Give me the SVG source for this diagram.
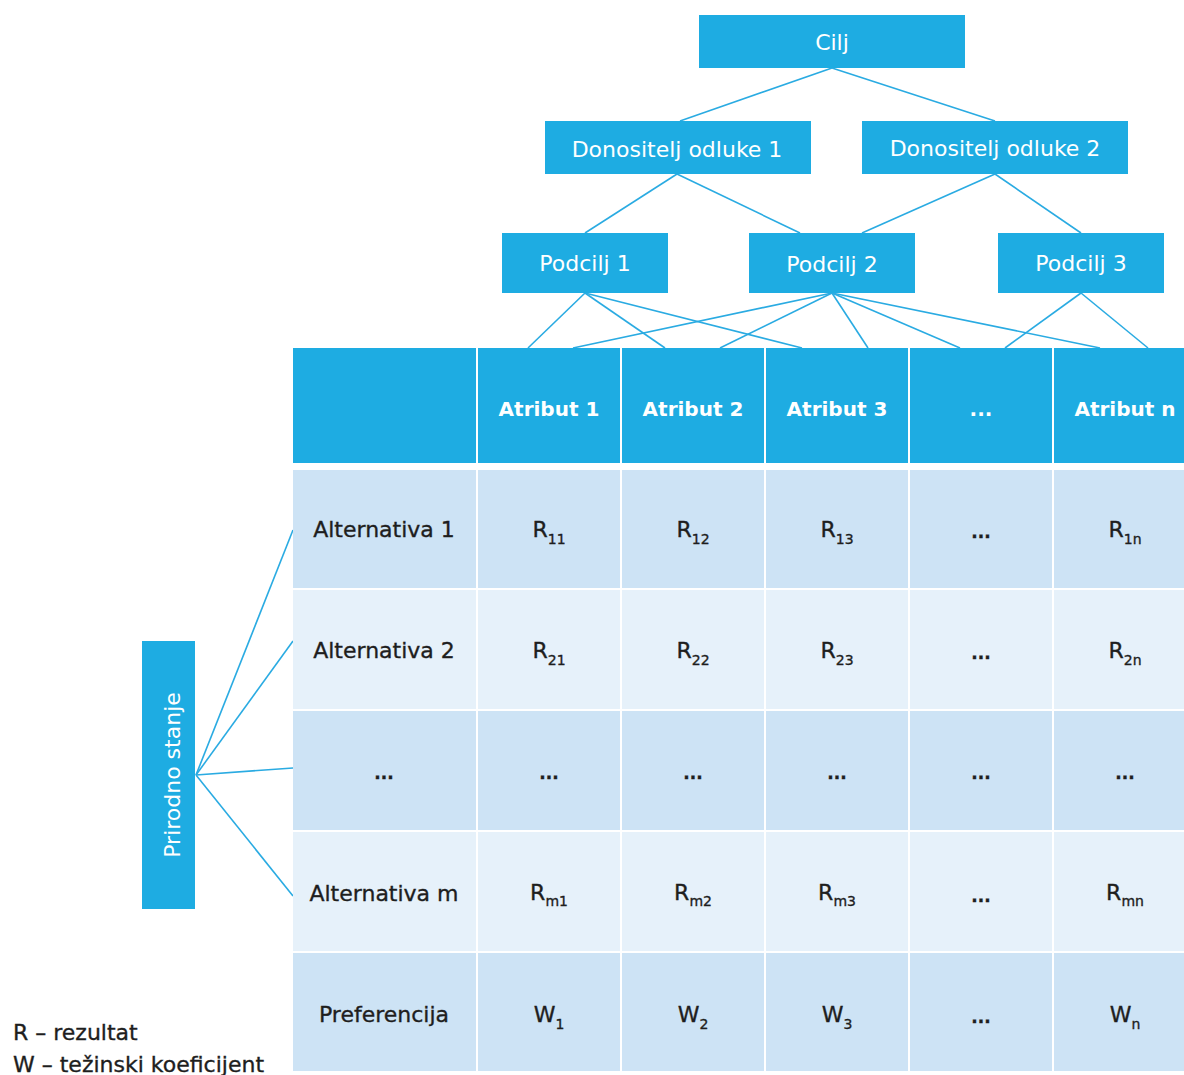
<svg xmlns="http://www.w3.org/2000/svg" width="1184" height="1075" viewBox="0 0 1184 1075">
<style>
.box{fill:#1eace2}
.wt{fill:#fff;font-family:"DejaVu Sans",sans-serif;font-size:22px;text-anchor:middle}
.hd{fill:#fff;font-family:"DejaVu Sans",sans-serif;font-weight:bold;font-size:20px;text-anchor:middle}
.c1{fill:#cde3f5}
.c2{fill:#e6f1fa}
.tx{fill:#1e1e1e;stroke:#1e1e1e;stroke-width:0.35;font-family:"DejaVu Sans",sans-serif;font-size:22px;text-anchor:middle}
.lg{fill:#1e1e1e;stroke:#1e1e1e;stroke-width:0.35;font-family:"DejaVu Sans",sans-serif;font-size:22px}
.sub{font-size:14px}
.dots{font-weight:bold;font-size:17px}
.conn line{stroke:#2aabe2;stroke-width:1.6}
</style>
<rect width="1184" height="1075" fill="#fff"/>
<g id="connectors" class="conn">
<line x1="832" y1="68" x2="680" y2="121"/>
<line x1="832" y1="68" x2="995" y2="121"/>
<line x1="677" y1="174" x2="585" y2="233"/>
<line x1="677" y1="174" x2="800" y2="233"/>
<line x1="995" y1="174" x2="862" y2="233"/>
<line x1="995" y1="174" x2="1081" y2="233"/>
<line x1="585" y1="293" x2="528" y2="348"/>
<line x1="585" y1="293" x2="665" y2="348"/>
<line x1="585" y1="293" x2="802" y2="348"/>
<line x1="832" y1="293" x2="573" y2="348"/>
<line x1="832" y1="293" x2="720" y2="348"/>
<line x1="832" y1="293" x2="868" y2="348"/>
<line x1="832" y1="293" x2="960" y2="348"/>
<line x1="832" y1="293" x2="1100" y2="348"/>
<line x1="1081" y1="293" x2="1005" y2="348"/>
<line x1="1081" y1="293" x2="1148" y2="348"/>
<line x1="196" y1="775" x2="293" y2="530"/>
<line x1="196" y1="775" x2="293" y2="641"/>
<line x1="196" y1="775" x2="293" y2="768"/>
<line x1="196" y1="775" x2="293" y2="896"/>
</g>
<g id="cilj"><rect class="box" x="699" y="15" width="266" height="53"/><text class="wt" x="832" y="50">Cilj</text></g>
<g id="donositelj1"><rect class="box" x="545" y="121" width="266" height="53"/><text class="wt" x="677" y="157">Donositelj odluke 1</text></g>
<g id="donositelj2"><rect class="box" x="862" y="121" width="266" height="53"/><text class="wt" x="995" y="156">Donositelj odluke 2</text></g>
<g id="podcilj1"><rect class="box" x="502" y="233" width="166" height="60"/><text class="wt" x="585" y="271">Podcilj 1</text></g>
<g id="podcilj2"><rect class="box" x="749" y="233" width="166" height="60"/><text class="wt" x="832" y="272">Podcilj 2</text></g>
<g id="podcilj3"><rect class="box" x="998" y="233" width="166" height="60"/><text class="wt" x="1081" y="271">Podcilj 3</text></g>
<g id="prirodno-stanje"><rect class="box" x="142" y="641" width="53" height="268"/><text class="wt" transform="translate(180,775) rotate(-90)">Prirodno stanje</text></g>
<g id="header">
<rect class="box" x="293" y="348" width="183" height="115"/>
<g id="atribut1"><rect class="box" x="478" y="348" width="142" height="115"/><text class="hd" x="549" y="416">Atribut 1</text></g>
<g id="atribut2"><rect class="box" x="622" y="348" width="142" height="115"/><text class="hd" x="693" y="416">Atribut 2</text></g>
<g id="atribut3"><rect class="box" x="766" y="348" width="142" height="115"/><text class="hd" x="837" y="416">Atribut 3</text></g>
<g id="atribut-dots"><rect class="box" x="910" y="348" width="142" height="115"/><text class="hd" x="981" y="416" font-size="17">...</text></g>
<g id="atributn"><rect class="box" x="1054" y="348" width="142" height="115"/><text class="hd" x="1125" y="416">Atribut n</text></g>
</g>
<g id="table-body">
<g id="row1">
<rect class="c1" x="293" y="470" width="183" height="118"/><rect class="c1" x="478" y="470" width="142" height="118"/><rect class="c1" x="622" y="470" width="142" height="118"/><rect class="c1" x="766" y="470" width="142" height="118"/><rect class="c1" x="910" y="470" width="142" height="118"/><rect class="c1" x="1054" y="470" width="142" height="118"/>
<text class="tx" x="384" y="537">Alternativa 1</text>
<text class="tx" x="549" y="537">R<tspan class="sub" dy="7">11</tspan></text>
<text class="tx" x="693" y="537">R<tspan class="sub" dy="7">12</tspan></text>
<text class="tx" x="837" y="537">R<tspan class="sub" dy="7">13</tspan></text>
<text class="tx dots" x="981" y="538">...</text>
<text class="tx" x="1125" y="537">R<tspan class="sub" dy="7">1n</tspan></text>
</g>
<g id="row2">
<rect class="c2" x="293" y="590" width="183" height="119"/><rect class="c2" x="478" y="590" width="142" height="119"/><rect class="c2" x="622" y="590" width="142" height="119"/><rect class="c2" x="766" y="590" width="142" height="119"/><rect class="c2" x="910" y="590" width="142" height="119"/><rect class="c2" x="1054" y="590" width="142" height="119"/>
<text class="tx" x="384" y="658">Alternativa 2</text>
<text class="tx" x="549" y="658">R<tspan class="sub" dy="7">21</tspan></text>
<text class="tx" x="693" y="658">R<tspan class="sub" dy="7">22</tspan></text>
<text class="tx" x="837" y="658">R<tspan class="sub" dy="7">23</tspan></text>
<text class="tx dots" x="981" y="659">...</text>
<text class="tx" x="1125" y="658">R<tspan class="sub" dy="7">2n</tspan></text>
</g>
<g id="row3">
<rect class="c1" x="293" y="711" width="183" height="119"/><rect class="c1" x="478" y="711" width="142" height="119"/><rect class="c1" x="622" y="711" width="142" height="119"/><rect class="c1" x="766" y="711" width="142" height="119"/><rect class="c1" x="910" y="711" width="142" height="119"/><rect class="c1" x="1054" y="711" width="142" height="119"/>
<text class="tx dots" x="384" y="779">...</text>
<text class="tx dots" x="549" y="779">...</text>
<text class="tx dots" x="693" y="779">...</text>
<text class="tx dots" x="837" y="779">...</text>
<text class="tx dots" x="981" y="779">...</text>
<text class="tx dots" x="1125" y="779">...</text>
</g>
<g id="row4">
<rect class="c2" x="293" y="832" width="183" height="119"/><rect class="c2" x="478" y="832" width="142" height="119"/><rect class="c2" x="622" y="832" width="142" height="119"/><rect class="c2" x="766" y="832" width="142" height="119"/><rect class="c2" x="910" y="832" width="142" height="119"/><rect class="c2" x="1054" y="832" width="142" height="119"/>
<text class="tx" x="384" y="901">Alternativa m</text>
<text class="tx" x="549" y="900">R<tspan class="sub" dy="6">m1</tspan></text>
<text class="tx" x="693" y="900">R<tspan class="sub" dy="6">m2</tspan></text>
<text class="tx" x="837" y="900">R<tspan class="sub" dy="6">m3</tspan></text>
<text class="tx dots" x="981" y="902">...</text>
<text class="tx" x="1125" y="900">R<tspan class="sub" dy="6">mn</tspan></text>
</g>
<g id="row5">
<rect class="c1" x="293" y="953" width="183" height="118"/><rect class="c1" x="478" y="953" width="142" height="118"/><rect class="c1" x="622" y="953" width="142" height="118"/><rect class="c1" x="766" y="953" width="142" height="118"/><rect class="c1" x="910" y="953" width="142" height="118"/><rect class="c1" x="1054" y="953" width="142" height="118"/>
<text class="tx" x="384" y="1022">Preferencija</text>
<text class="tx" x="549" y="1022">W<tspan class="sub" dy="7">1</tspan></text>
<text class="tx" x="693" y="1022">W<tspan class="sub" dy="7">2</tspan></text>
<text class="tx" x="837" y="1022">W<tspan class="sub" dy="7">3</tspan></text>
<text class="tx dots" x="981" y="1023">...</text>
<text class="tx" x="1125" y="1022">W<tspan class="sub" dy="7">n</tspan></text>
</g>
</g>
<g id="legend">
<text class="lg" x="13" y="1040">R – rezultat</text>
<text class="lg" x="13" y="1072">W – težinski koeficijent</text>
</g>
</svg>
